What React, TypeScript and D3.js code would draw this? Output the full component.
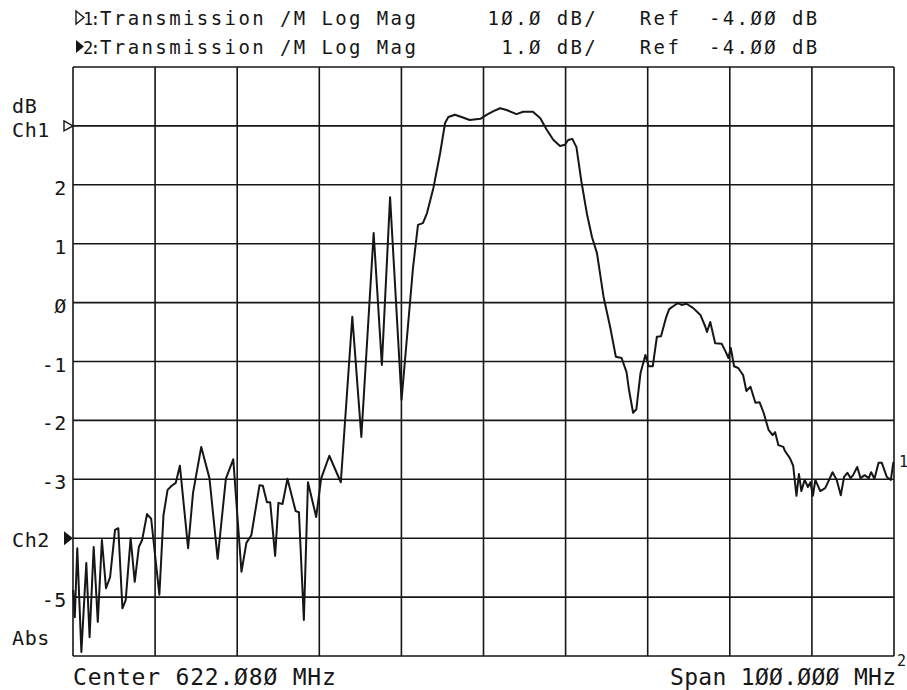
import React from 'react';
import * as d3 from 'd3';

// trace 2 (1 dB/div)
const freqMHz = [
  572.1, 572.3, 572.6, 573.1, 573.7, 574.1, 574.6, 575.1, 575.6, 576.1,
  576.6, 577.2, 577.6, 578.1, 578.5, 579.1, 579.6, 580.1, 580.5, 581.1,
  581.6, 582.6, 583.1, 583.6, 584.1, 584.6, 585.1, 586.1, 586.7, 587.7,
  588.7, 589.7, 590.7, 591.6, 592.6, 593.2, 593.8, 594.8, 595.2, 595.7,
  596.1, 596.7, 597.1, 597.6, 598.2, 599.2, 599.6, 600.2, 600.7, 601.7,
  602.3, 603.3, 604.7, 606.1, 607.2, 608.7, 609.7, 610.7, 612.1, 613.5,
  614.1, 614.7, 615.2, 616.0, 616.8, 617.4, 617.8, 618.6, 619.4, 620.4,
  621.7, 622.5, 623.3, 624.1, 624.9, 626.1, 626.9, 628.1, 629.0, 629.8,
  630.6, 631.4, 632.0, 632.4, 632.9, 633.4, 634.0, 634.7, 635.3, 635.9,
  636.7, 637.5, 638.2, 638.9, 639.5, 639.8, 640.3, 640.7, 641.2, 641.8,
  642.2, 642.7, 643.2, 643.7, 644.3, 644.7, 645.4, 645.8, 646.2, 646.8,
  647.6, 648.5, 649.1, 649.3, 649.7, 650.3, 651.1, 651.6, 651.9, 652.2,
  652.6, 653.1, 653.7, 654.1, 654.6, 655.2, 655.7, 656.2, 656.8, 657.3,
  657.6, 658.0, 658.6, 658.8, 659.4, 659.8, 660.2, 660.5, 660.8, 661.2,
  661.6, 661.9, 662.2, 662.5, 663.1, 663.7, 664.6, 665.1, 665.6, 666.0,
  666.4, 666.8, 667.1, 667.6, 668.0, 668.5, 669.0, 669.3, 669.7, 670.2,
  670.6, 671.2, 671.7, 672.0,
];

const magDb = [
  -4.88, -5.34, -4.17, -5.93, -4.42, -5.68, -4.15, -5.42, -4.03, -4.85,
  -4.66, -3.86, -3.83, -5.19, -5.05, -4.0, -4.74, -4.15, -4.03, -3.59,
  -3.67, -4.96, -3.61, -3.18, -3.11, -3.06, -2.77, -4.17, -3.23, -2.45,
  -2.98, -4.35, -2.99, -2.66, -4.57, -4.08, -3.95, -3.1, -3.11, -3.39,
  -3.39, -4.3, -3.4, -3.42, -2.99, -3.54, -3.56, -5.39, -3.05, -3.64,
  -2.99, -2.6, -3.05, -0.24, -2.28, 1.18, -1.06, 1.79, -1.65, 0.6,
  1.32, 1.35, 1.52, 1.96, 2.54, 3.05, 3.15, 3.19, 3.15, 3.1,
  3.12, 3.19, 3.25, 3.3, 3.27, 3.2, 3.24, 3.24, 3.13, 2.93,
  2.76, 2.66, 2.68, 2.76, 2.78, 2.64, 2.06, 1.49, 1.11, 0.84,
  0.1, -0.41, -0.92, -0.94, -1.18, -1.48, -1.87, -1.81, -1.2, -0.89,
  -1.08, -1.08, -0.58, -0.57, -0.26, -0.11, -0.04, -0.01, -0.04, -0.02,
  -0.09, -0.21, -0.41, -0.5, -0.33, -0.69, -0.7, -0.84, -0.94, -0.77,
  -1.08, -1.11, -1.23, -1.5, -1.43, -1.7, -1.69, -1.87, -2.16, -2.25,
  -2.2, -2.42, -2.45, -2.52, -2.64, -2.77, -3.28, -2.91, -3.2, -3.01,
  -3.13, -3.05, -3.28, -3.01, -3.2, -3.15, -2.88, -3.01, -3.27, -2.96,
  -2.89, -2.98, -2.93, -2.79, -2.98, -2.93, -2.98, -2.88, -2.99, -2.72,
  -2.72, -2.96, -3.01, -2.71,
];

const yTickValues = [2, 1, 0, -1, -2, -3, -5];
const yTickLabels = ['2', '1', 'Ø', '-1', '-2', '-3', '-5'];

const headerLines = [
  'Transmission /M Log Mag     1Ø.Ø dB/   Ref  -4.ØØ dB',
  'Transmission /M Log Mag      1.Ø dB/   Ref  -4.ØØ dB',
];

const W = 907;
const H = 690;
const left = 73;
const right = 894;
const top = 67;
const bottom = 656;
const ink = '#161616';
const mono = '"DejaVu Sans Mono", "Liberation Mono", monospace';

const App: React.FC = () => {
  const x = d3.scaleLinear().domain([572.08, 672.08]).range([left, right]);
  const y = d3.scaleLinear().domain([-6, 4]).range([bottom, top]);

  const xGrid = d3.range(0, 11).map((i) => 572.08 + i * 10);
  const yGrid = d3.range(-6, 5);

  const points: [number, number][] = d3.zip(freqMHz, magDb) as [number, number][];
  const line = d3
    .line<[number, number]>()
    .x((d) => x(d[0]))
    .y((d) => y(d[1]));

  const ch1Y = y(3);
  const ch2Y = y(-4);

  return (
    <svg
      width={W}
      height={H}
      style={{ position: 'absolute', left: 0, top: 0, background: '#fff' }}
    >
      <rect x={0} y={0} width={W} height={H} fill="#fff" />

      {/* header */}
      <path d="M76,11 L84,17.5 L76,24 Z" fill="none" stroke={ink} strokeWidth={1.4} />
      <path d="M76,40 L84,46.5 L76,53 Z" fill={ink} />
      {headerLines.map((t, i) => (
        <g key={i} fontFamily={mono} fontSize={19} fill={ink}>
          <text x={83} y={25 + i * 29} fontSize={17} letterSpacing={-3}>
            {i + 1 + ':'}
          </text>
          <text x={100} y={25 + i * 29} letterSpacing={2.4} style={{ whiteSpace: 'pre' }}>
            {t}
          </text>
        </g>
      ))}

      {/* grid */}
      <g stroke={ink} strokeWidth={1.6}>
        {xGrid.map((f) => (
          <line key={'v' + f} x1={x(f)} x2={x(f)} y1={top} y2={bottom} />
        ))}
        {yGrid.map((v) => (
          <line key={'h' + v} x1={left} x2={right} y1={y(v)} y2={y(v)} />
        ))}
      </g>

      {/* trace */}
      <path
        d={line(points) || ''}
        fill="none"
        stroke={ink}
        strokeWidth={2}
        strokeLinejoin="round"
      />

      {/* left labels */}
      <g fontFamily={mono} fontSize={20} fill={ink}>
        {yTickValues.map((v, i) => (
          <text key={v} x={67} y={y(v) + 10} textAnchor="end" letterSpacing={0.6}>
            {yTickLabels[i]}
          </text>
        ))}
        <text x={12} y={113} letterSpacing={0.6}>dB</text>
        <text x={12} y={ch1Y + 11} letterSpacing={0.6}>Ch1</text>
        <text x={12} y={ch2Y + 9} letterSpacing={0.6}>Ch2</text>
        <text x={12} y={645} letterSpacing={0.6}>Abs</text>
      </g>
      <path
        d={`M${left - 9},${ch1Y - 5} L${left},${ch1Y} L${left - 9},${ch1Y + 5} Z`}
        fill="none"
        stroke={ink}
        strokeWidth={1.4}
      />
      <path
        d={`M${left - 9},${ch2Y - 7} L${left},${ch2Y} L${left - 9},${ch2Y + 7} Z`}
        fill={ink}
      />

      {/* bottom labels */}
      <g fontFamily={mono} fontSize={23} fill={ink}>
        <text x={73} y={685} letterSpacing={0.8} style={{ whiteSpace: 'pre' }}>
          Center 622.Ø8Ø MHz
        </text>
        <text x={670} y={685} letterSpacing={0.3} style={{ whiteSpace: 'pre' }}>
          Span 1ØØ.ØØØ MHz
        </text>
      </g>
      <g fontFamily={mono} fontSize={15} fill={ink}>
        <text x={899} y={467}>1</text>
        <text x={897} y={666}>2</text>
      </g>
    </svg>
  );
};

export default App;
